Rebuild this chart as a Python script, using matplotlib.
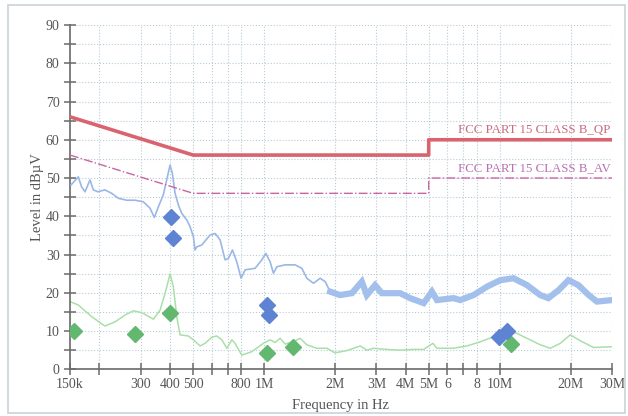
import matplotlib
matplotlib.use('Agg')
import matplotlib.pyplot as plt
from matplotlib.patches import Rectangle
from matplotlib.ticker import FixedLocator, NullFormatter, NullLocator

# limit lines (frequency in MHz, level in dBuV)
qp_freq = [0.15, 0.5, 5.0, 5.0, 30.0]
qp_level = [66, 56, 56, 60, 60]
av_freq = [0.15, 0.5, 5.0, 5.0, 30.0]
av_level = [56, 46, 46, 50, 50]

# peak scan (blue)
pk_freq = [0.1515, 0.1627, 0.168, 0.1737, 0.1824, 0.1884, 0.197, 0.211, 0.2255,
           0.2406, 0.261, 0.283, 0.307, 0.328, 0.342, 0.356, 0.3735, 0.386, 0.399,
           0.408, 0.419, 0.433, 0.447, 0.470, 0.485, 0.501, 0.509, 0.518, 0.544,
           0.590, 0.620, 0.651, 0.683, 0.706, 0.734, 0.766, 0.799, 0.831, 0.916,
           0.978, 1.017, 1.061, 1.096, 1.133, 1.229, 1.355, 1.447, 1.519, 1.62,
           1.73, 1.818, 1.908]
pk_level = [48.2, 50.3, 47.7, 46.4, 49.5, 46.9, 46.4, 46.9, 46.0,
            44.7, 44.2, 44.2, 43.8, 42.1, 39.7, 42.5, 45.6, 49.5, 53.4,
            51.2, 46.0, 42.9, 40.8, 39.0, 37.3, 34.7, 31.2, 32.0, 32.5,
            35.1, 35.5, 33.8, 28.6, 29.0, 31.2, 28.1, 23.8, 26.0, 26.4,
            28.6, 30.3, 28.1, 25.1, 26.8, 27.3, 27.3, 26.4, 23.8, 22.5,
            23.8, 22.9, 20.3]
# noisy part of the peak scan (drawn as a band)
band_freq = [1.908, 2.10, 2.36, 2.60, 2.73, 2.96, 3.16, 3.78, 4.17, 4.76, 5.16,
             5.42, 6.37, 6.81, 7.75, 8.84, 10.06, 11.46, 13.07, 14.88, 16.1,
             17.8, 19.6, 21.6, 23.9, 25.9, 30.0]
band_level = [20.3, 19.4, 19.9, 22.9, 19.4, 22.0, 19.9, 19.9, 18.6, 17.3, 20.3,
              18.1, 18.6, 18.1, 19.4, 21.6, 23.3, 23.8, 22.0, 19.4, 18.6,
              20.7, 23.3, 22.0, 19.4, 17.7, 18.1]

# average scan (green)
av_scan_freq = [0.15, 0.1627, 0.185, 0.211, 0.233, 0.257, 0.279, 0.303, 0.339,
                0.362, 0.380, 0.399, 0.412, 0.426, 0.440, 0.477, 0.501, 0.535,
                0.562, 0.600, 0.630, 0.662, 0.695, 0.730, 0.753, 0.804, 0.887,
                0.994, 1.061, 1.114, 1.17, 1.229, 1.333, 1.423, 1.519, 1.675,
                1.848, 2.0, 2.25, 2.56, 2.73, 2.91, 3.32, 3.78, 4.31, 4.76,
                5.21, 5.42, 6.37, 7.27, 8.28, 9.43, 10.23, 11.46, 13.07, 14.88,
                16.4, 18.1, 19.95, 22.4, 25.1, 30.0]
av_scan_level = [17.7, 16.8, 13.8, 11.3, 12.4, 14.2, 15.3, 14.8, 13.1,
                 15.5, 19.9, 24.9, 21.6, 13.7, 9.0, 8.7, 7.7, 6.1,
                 6.8, 8.4, 8.7, 7.7, 5.5, 7.7, 6.8, 3.7, 4.6,
                 6.8, 7.7, 7.0, 8.1, 6.6, 7.2, 8.1, 6.4, 5.5,
                 5.5, 4.3, 4.9, 6.1, 5.0, 5.5, 5.2, 5.0, 5.2, 5.2,
                 6.8, 5.5, 5.5, 6.1, 7.2, 8.5, 9.4, 9.8, 8.1, 6.4,
                 5.5, 6.8, 9.0, 7.2, 5.7, 5.9]

# final measurements
qp_pts_freq = [0.4017, 0.41, 1.03, 1.05, 9.9, 10.8]
qp_pts_level = [39.9, 34.2, 16.7, 14.1, 8.5, 10.0]
av_pts_freq = [0.156, 0.283, 0.399, 1.03, 1.33, 11.2]
av_pts_level = [10.1, 9.1, 14.8, 4.3, 5.9, 6.5]

x_ticks = [0.15, 0.2, 0.3, 0.4, 0.5, 0.6, 0.7, 0.8, 1, 2, 3, 4, 5, 6, 7, 8, 10, 20, 30]
x_labels = ['150k', '', '300', '400', '500', '', '', '800', '1M', '2M', '3M', '4M',
            '5M', '6', '', '8', '10M', '20M', '30M']

plt.rcParams['font.family'] = ['Liberation Serif', 'DejaVu Serif']

fig = plt.figure(figsize=(6.28, 4.16), dpi=100)
fig.patches.append(Rectangle((8 / 628, 3 / 416), 617 / 628, 408 / 416,
                             transform=fig.transFigure, fill=False,
                             edgecolor='#c9d3d8', linewidth=1.2))
ax = fig.add_axes([70 / 628, 46.7 / 416, 542 / 628, 344.3 / 416])

grid_col = '#b9ccd6'
for f in x_ticks[1:]:
    ax.axvline(f, color=grid_col, linestyle=':', linewidth=0.8, zorder=0)
for lv in range(5, 95, 5):
    ax.axhline(lv, color=grid_col, linestyle=':', linewidth=0.8, zorder=0)

ax.plot(av_scan_freq, av_scan_level, color='#a9dfa9', linewidth=1.1, zorder=2)
ax.plot(pk_freq, pk_level, color='#9ab8e6', linewidth=1.2, zorder=3)
ax.plot(band_freq, band_level, color='#a3c0ec', linewidth=4.5, zorder=3,
        solid_joinstyle='miter')

ax.plot(qp_freq, qp_level, color='#d9636f', linewidth=2.6, zorder=4)
ax.plot(av_freq, av_level, color='#c964a3', linewidth=1.0, linestyle='-.', zorder=4)

ax.plot(qp_pts_freq, qp_pts_level, linestyle='none', marker='D', markersize=8,
        color='#5e83d3', zorder=6)
ax.plot(av_pts_freq, av_pts_level, linestyle='none', marker='D', markersize=8,
        color='#62b86f', zorder=5)

ax.text(29.5, 61.0, 'FCC PART 15 CLASS B_QP', ha='right', va='bottom',
        color='#cc6b80', fontsize=9.3)
ax.text(29.5, 51.0, 'FCC PART 15 CLASS B_AV', ha='right', va='bottom',
        color='#b872b2', fontsize=9.3)

ax.set_xscale('log')
ax.set_xlim(0.15, 30)
ax.set_ylim(0, 90)
ax.xaxis.set_major_locator(FixedLocator(x_ticks))
ax.xaxis.set_minor_locator(NullLocator())
ax.xaxis.set_minor_formatter(NullFormatter())
ax.set_xticklabels(x_labels)
ax.set_yticks(range(0, 100, 10))
ax.set_yticks(range(5, 90, 10), minor=True)

for s in ['top', 'right']:
    ax.spines[s].set_visible(False)
for s in ['left', 'bottom']:
    ax.spines[s].set_color('#6a6a6a')
    ax.spines[s].set_linewidth(1.2)
ax.tick_params(axis='both', which='both', direction='inout', length=8,
               width=1.1, color='#6a6a6a', labelcolor='#555555', labelsize=10)
ax.tick_params(axis='x', pad=2)

ax.set_xlabel('Frequency in Hz', color='#555555', fontsize=10.5, labelpad=6)
ax.set_ylabel('Level in dBµV', color='#555555', fontsize=10.5, labelpad=1)

fig.savefig('out.png', dpi=100)
